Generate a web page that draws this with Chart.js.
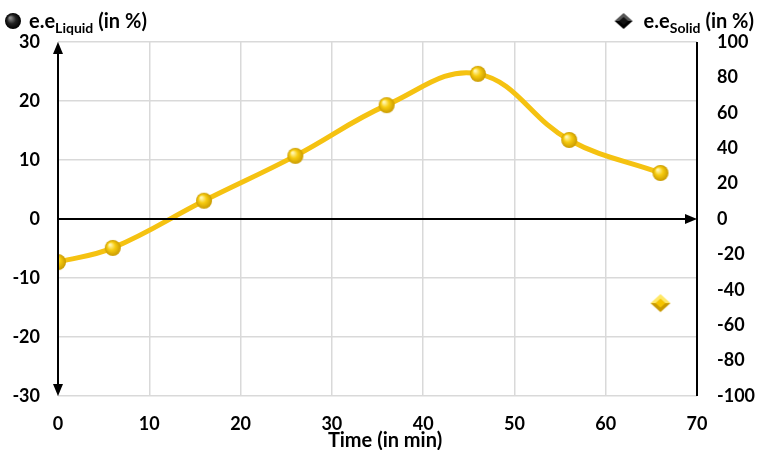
<!DOCTYPE html>
<html><head><meta charset="utf-8">
<script src="https://cdn.jsdelivr.net/npm/chart.js@4/dist/chart.umd.min.js"></script>
<style>html,body{margin:0;padding:0;background:#fff}#wrap{width:760px;height:450px}</style>
</head><body><div id="wrap"><canvas id="c" width="760" height="450"></canvas></div>
<script>
const timeMin = [0, 6, 16, 26, 36, 46, 56, 66];
const eeLiquid = [-7.3, -4.9, 3.1, 10.7, 19.3, 24.6, 13.4, 7.8];
const solidTime = [66];
const eeSolid = [-47.5];
const xTicks = [0, 10, 20, 30, 40, 50, 60, 70];
const leftTicks = [-30, -20, -10, 0, 10, 20, 30];
const rightTicks = [-100, -80, -60, -40, -20, 0, 20, 40, 60, 80, 100];
const xTitle = 'Time (in min)';

function sphere(r, dark) {
  const c = document.createElement('canvas');
  c.width = c.height = r * 2 + 2;
  const g = c.getContext('2d');
  const cx = r + 1, cy = r + 1;
  const gr = g.createRadialGradient(cx - r * 0.35, cy - r * 0.4, r * 0.1, cx, cy, r);
  if (dark) { gr.addColorStop(0, '#888'); gr.addColorStop(0.5, '#222'); gr.addColorStop(1, '#000'); }
  else { gr.addColorStop(0, '#FFF6B0'); gr.addColorStop(0.45, '#F7CC10'); gr.addColorStop(1, '#C99A00'); }
  g.fillStyle = gr; g.beginPath(); g.arc(cx, cy, r, 0, Math.PI * 2); g.fill();
  return c;
}
function diamond(rx, ry, dark) {
  const c = document.createElement('canvas');
  c.width = rx * 2 + 2; c.height = ry * 2 + 2;
  const g = c.getContext('2d');
  const cx = rx + 1, cy = ry + 1;
  const top = dark ? '#555' : '#FFE866', mid = dark ? '#111' : '#F5C400', bot = dark ? '#000' : '#C99A00';
  g.fillStyle = top; g.beginPath(); g.moveTo(cx, cy - ry); g.lineTo(cx + rx, cy); g.lineTo(cx - rx, cy); g.closePath(); g.fill();
  g.fillStyle = bot; g.beginPath(); g.moveTo(cx, cy + ry); g.lineTo(cx + rx, cy); g.lineTo(cx - rx, cy); g.closePath(); g.fill();
  g.fillStyle = mid; g.beginPath(); g.moveTo(cx, cy - ry * 0.5); g.lineTo(cx + rx * 0.5, cy); g.lineTo(cx, cy + ry * 0.5); g.lineTo(cx - rx * 0.5, cy); g.closePath(); g.fill();
  return c;
}
const ySphere = sphere(8, false), yDiamond = diamond(10, 9, false);
const bSphere = sphere(8, true), bDiamond = diamond(9, 8, true);

const FONT = 'Lato, "Open Sans", sans-serif';

const decor = {
  id: 'decor',
  afterDraw(chart) {
    const ctx = chart.ctx, x = chart.scales.x, yl = chart.scales.y;
    const x0 = x.getPixelForValue(0), x70 = x.getPixelForValue(70);
    const yT = yl.getPixelForValue(30), yB = yl.getPixelForValue(-30), y0 = yl.getPixelForValue(0);
    ctx.save();
    ctx.strokeStyle = '#000'; ctx.fillStyle = '#000'; ctx.lineWidth = 2;
    ctx.beginPath(); ctx.moveTo(x0, yT + 8); ctx.lineTo(x0, yB - 8); ctx.stroke();
    const arrow = (tx, ty, dx, dy) => {
      const L = 12, W = 5;
      ctx.beginPath(); ctx.moveTo(tx, ty);
      ctx.lineTo(tx - dx * L - dy * W, ty - dy * L + dx * W);
      ctx.lineTo(tx - dx * L + dy * W, ty - dy * L - dx * W);
      ctx.closePath(); ctx.fill();
    };
    arrow(x0, yT, 0, -1); arrow(x0, yB, 0, 1);
    ctx.beginPath(); ctx.moveTo(x0, y0); ctx.lineTo(x70 - 8, y0); ctx.stroke();
    arrow(x70, y0, 1, 0);
    ctx.beginPath(); ctx.moveTo(x70, yT); ctx.lineTo(x70, yB); ctx.stroke();
    // x title
    ctx.font = 'bold 20px ' + FONT; ctx.textAlign = 'center'; ctx.textBaseline = 'middle';
    ctx.fillText(xTitle, 385, 441);
    // axis titles with subscripts
    ctx.textBaseline = 'alphabetic'; ctx.textAlign = 'left';
    ctx.drawImage(bSphere, 13 - 9, 21 - 9);
    let px = 29;
    ctx.font = 'bold 20px ' + FONT; ctx.fillText('e.e', px, 28); px += ctx.measureText('e.e').width;
    ctx.font = 'bold 14px ' + FONT; ctx.fillText('Liquid', px, 33); px += ctx.measureText('Liquid').width + 5;
    ctx.font = 'bold 20px ' + FONT; ctx.fillText('(in %)', px, 28);
    ctx.font = 'bold 20px ' + FONT;
    const w1 = ctx.measureText('e.e').width, w3 = ctx.measureText('(in %)').width;
    ctx.font = 'bold 14px ' + FONT; const w2 = ctx.measureText('Solid').width;
    let rx = 754 - (w1 + w2 + 5 + w3);
    ctx.drawImage(bDiamond, rx - 20 - 10, 21 - 9);
    ctx.font = 'bold 20px ' + FONT; ctx.fillText('e.e', rx, 28); rx += w1;
    ctx.font = 'bold 14px ' + FONT; ctx.fillText('Solid', rx, 33); rx += w2 + 5;
    ctx.font = 'bold 20px ' + FONT; ctx.fillText('(in %)', rx, 28);
    ctx.restore();
  }
};

new Chart(document.getElementById('c'), {
  type: 'scatter',
  data: {
    datasets: [
      {
        label: 'e.e Liquid',
        data: timeMin.map((t, i) => ({ x: t, y: eeLiquid[i] })),
        yAxisID: 'y',
        showLine: true,
        borderColor: '#F5C211',
        borderWidth: 5,
        tension: 0.4,
        pointStyle: ySphere,
        pointRadius: 8,
        pointHoverRadius: 8
      },
      {
        label: 'e.e Solid',
        data: solidTime.map((t, i) => ({ x: t, y: eeSolid[i] })),
        yAxisID: 'y2',
        showLine: false,
        pointStyle: yDiamond,
        pointRadius: 10
      }
    ]
  },
  options: {
    responsive: false,
    animation: false,
    events: [],
    layout: { padding: { top: 42, left: 0, right: 0, bottom: 0 } },
    plugins: { legend: { display: false }, tooltip: { enabled: false } },
    scales: {
      x: {
        type: 'linear', min: 0, max: 70,
        afterBuildTicks: s => { s.ticks = xTicks.map(v => ({ value: v })); },
        grid: { color: '#d9d9d9', lineWidth: 1.5, drawTicks: false },
        border: { display: false },
        ticks: { color: '#000', padding: 17, font: { family: FONT, size: 18, weight: 'bold' } },
        afterFit: s => { s.height = 54; }
      },
      y: {
        position: 'left', min: -30, max: 30,
        afterBuildTicks: s => { s.ticks = leftTicks.map(v => ({ value: v })); },
        grid: { color: '#d9d9d9', lineWidth: 1.5, drawTicks: false },
        border: { display: false },
        ticks: { color: '#000', padding: 18, font: { family: FONT, size: 18, weight: 'bold' } },
        afterFit: s => { s.width = 58; }
      },
      y2: {
        position: 'right', min: -100, max: 100,
        afterBuildTicks: s => { s.ticks = rightTicks.map(v => ({ value: v })); },
        grid: { display: false, drawTicks: false },
        border: { display: false },
        ticks: { color: '#000', padding: 20, font: { family: FONT, size: 18, weight: 'bold' } },
        afterFit: s => { s.width = 63; }
      }
    }
  },
  plugins: [decor]
});
</script></body></html>
